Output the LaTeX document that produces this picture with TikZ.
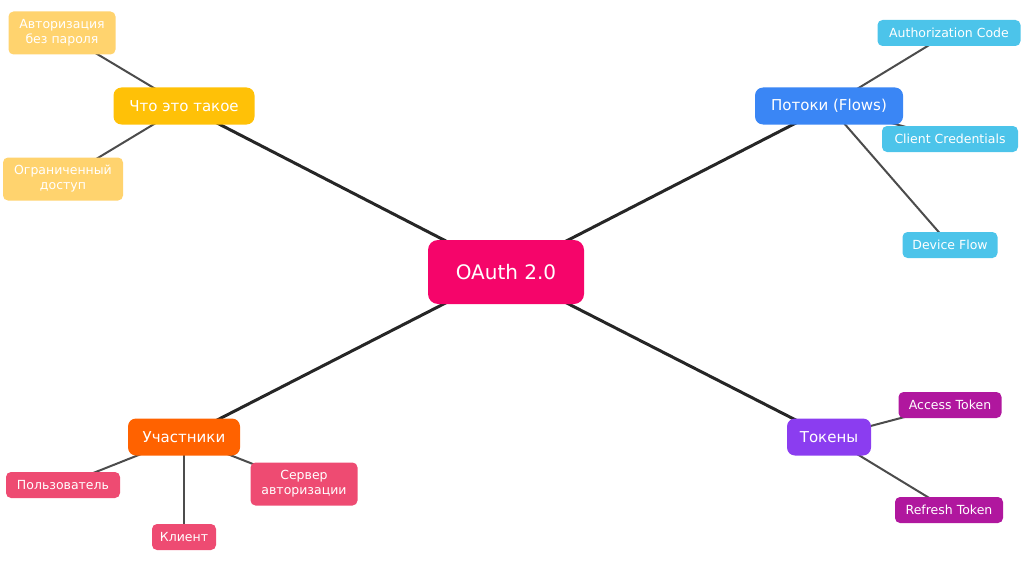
\documentclass[tikz,border=0pt]{standalone}
\usepackage{fontspec}
\setmainfont{DejaVu Sans}
\usetikzlibrary{backgrounds}
\definecolor{cMain}{HTML}{F5056A}
\definecolor{cWhat}{HTML}{FFC107}
\definecolor{cWhatL}{HTML}{FFD36E}
\definecolor{cFlow}{HTML}{3A86F5}
\definecolor{cFlowL}{HTML}{4CC4EA}
\definecolor{cPart}{HTML}{FF6200}
\definecolor{cPartL}{HTML}{EE4B72}
\definecolor{cTok}{HTML}{8B3DF0}
\definecolor{cTokL}{HTML}{B0179E}
\begin{document}
\begin{tikzpicture}[x=1pt,y=-1pt,
  box/.style={rounded corners=6pt,text=white,align=center,inner sep=0pt},
  main/.style={box,fill=cMain,minimum width=156pt,minimum height=64pt,font=\fontsize{20}{24}\selectfont,rounded corners=10pt},
  br/.style={box,font=\fontsize{15}{18}\selectfont,minimum height=37pt,rounded corners=8pt},
  leaf/.style={box,font=\fontsize{12.5}{15}\selectfont,minimum height=26pt,rounded corners=5pt},
  leaf2/.style={leaf,minimum height=43pt},
  e1/.style={line width=3pt,draw=black!85},
  e2/.style={line width=2pt,draw=black!70}]
\useasboundingbox (0,0) rectangle (1024,567);
\node[main] (c) at (506,272) {OAuth 2.0};
\node[br,fill=cWhat,minimum width=141pt] (w) at (184,106) {Что это такое};
\node[leaf2,fill=cWhatL,minimum width=107pt] (w1) at (62,33) {Авторизация\\без пароля};
\node[leaf2,fill=cWhatL,minimum width=120pt] (w2) at (63,179) {Ограниченный\\доступ};
\node[br,fill=cFlow,minimum width=148pt] (f) at (829,106) {Потоки (Flows)};
\node[leaf,fill=cFlowL,minimum width=143pt] (f1) at (949,33) {Authorization Code};
\node[leaf,fill=cFlowL,minimum width=136pt] (f2) at (950,139) {Client Credentials};
\node[leaf,fill=cFlowL,minimum width=95pt] (f3) at (950,245) {Device Flow};
\node[br,fill=cPart,minimum width=112pt] (p) at (184,437) {Участники};
\node[leaf,fill=cPartL,minimum width=114pt] (p1) at (63,485) {Пользователь};
\node[leaf,fill=cPartL,minimum width=64pt] (p2) at (184,537) {Клиент};
\node[leaf2,fill=cPartL,minimum width=107pt] (p3) at (304,484) {Сервер\\авторизации};
\node[br,fill=cTok,minimum width=84pt] (t) at (829,437) {Токены};
\node[leaf,fill=cTokL,minimum width=103pt] (t1) at (950,405) {Access Token};
\node[leaf,fill=cTokL,minimum width=108pt] (t2) at (949,510) {Refresh Token};
\begin{scope}[on background layer]
\draw[e1] (c.center) -- (w.center);
\draw[e1] (c.center) -- (f.center);
\draw[e1] (c.center) -- (p.center);
\draw[e1] (c.center) -- (t.center);
\draw[e2] (w.center) -- (w1.center);
\draw[e2] (w.center) -- (w2.center);
\draw[e2] (f.center) -- (f1.center);
\draw[e2] (f.center) -- (f2.center);
\draw[e2] (f.center) -- (f3.center);
\draw[e2] (p.center) -- (p1.center);
\draw[e2] (p.center) -- (p2.center);
\draw[e2] (p.center) -- (p3.center);
\draw[e2] (t.center) -- (t1.center);
\draw[e2] (t.center) -- (t2.center);
\end{scope}
\end{tikzpicture}
\end{document}
